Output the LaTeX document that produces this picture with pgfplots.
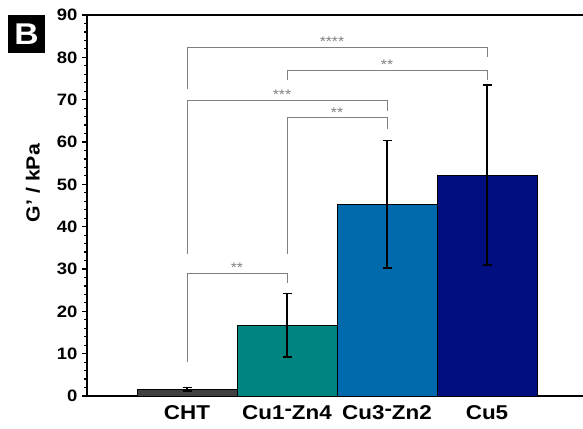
\documentclass[border=0pt]{standalone}
\usepackage{pgfplots}
\pgfplotsset{compat=1.18}
\usepackage{fontspec}
\setmainfont{Liberation Sans}[FakeStretch=1.12]
\definecolor{cht}{RGB}{64,64,64}
\definecolor{cuzn4}{RGB}{0,132,128}
\definecolor{cuzn2}{RGB}{0,106,173}
\definecolor{cufive}{RGB}{0,14,128}
\definecolor{brk}{RGB}{128,128,128}
\pgfplotsset{myerr/.style={error bars/.cd, y dir=both, y explicit,
  error bar style={line width=1.6pt, black, solid},
  error mark=|,
  error mark options={line width=1.6pt, black, mark size=4.5pt, solid}}}
\begin{document}
\begin{tikzpicture}
\begin{axis}[
  at={(87pt,32pt)}, anchor=south west,
  scale only axis, width=496pt, height=381pt,
  xmin=0, xmax=4.96, ymin=0, ymax=90,
  axis x line*=box, axis y line*=left,
  axis line style={line width=1.4pt},
  ytick={0,10,...,90}, minor y tick num=4,
  xtick={1,2,3,4},
  xticklabels={CHT, Cu1\raisebox{0.4ex}{-}Zn4, Cu3\raisebox{0.4ex}{-}Zn2, Cu5},
  x tick style={draw=none},
  y tick style={line width=1.2pt, black},
  tick align=outside,
  major tick length=5pt, minor tick length=3pt,
  /pgf/number format/assume math mode=true,
  yticklabel style={font=\bfseries\fontsize{16.5}{20}\selectfont, xshift=-1pt},
  xticklabel style={font=\bfseries\fontsize{20}{22}\selectfont, yshift=-1pt},
  ylabel={G' / kPa},
  ylabel style={font=\bfseries\fontsize{19}{20}\selectfont, at={(axis description cs:-0.109,0.559)}, anchor=center},
  ybar, bar width=1, bar shift=0pt,
  clip=false,
]
\addplot[fill=cht, draw=black, line width=1pt, myerr]
  coordinates {(1,1.6) +- (0,0.4)};
\addplot[fill=cuzn4, draw=black, line width=1pt, myerr]
  coordinates {(2,16.7) +- (0,7.5)};
\addplot[fill=cuzn2, draw=black, line width=1pt, myerr]
  coordinates {(3,45.3) +- (0,15.1)};
\addplot[fill=cufive, draw=black, line width=1pt, myerr]
  coordinates {(4,52.2) +- (0,21.2)};
% significance brackets
\draw[brk, line width=0.9pt] (axis cs:1,72.5) -- (axis cs:1,82.3) -- (axis cs:4,82.3) -- (axis cs:4,80.0);
\node[brk, anchor=south, inner sep=0.5pt, font=\fontsize{14}{14}\selectfont] at (axis cs:2.45,82.3) {****};
\draw[brk, line width=0.9pt] (axis cs:2,74.7) -- (axis cs:2,77.0) -- (axis cs:4,77.0) -- (axis cs:4,74.7);
\node[brk, anchor=south, inner sep=0.5pt, font=\fontsize{14}{14}\selectfont] at (axis cs:3,77.0) {**};
\draw[brk, line width=0.9pt] (axis cs:1,33.5) -- (axis cs:1,69.8) -- (axis cs:3,69.8) -- (axis cs:3,67.4);
\node[brk, anchor=south, inner sep=0.5pt, font=\fontsize{14}{14}\selectfont] at (axis cs:1.95,69.8) {***};
\draw[brk, line width=0.9pt] (axis cs:2,33.5) -- (axis cs:2,65.7) -- (axis cs:3,65.7) -- (axis cs:3,63.1);
\node[brk, anchor=south, inner sep=0.5pt, font=\fontsize{14}{14}\selectfont] at (axis cs:2.5,65.7) {**};
\draw[brk, line width=0.9pt] (axis cs:1,8.1) -- (axis cs:1,28.9) -- (axis cs:2,28.9) -- (axis cs:2,26.6);
\node[brk, anchor=south, inner sep=0.5pt, font=\fontsize{14}{14}\selectfont] at (axis cs:1.5,28.9) {**};
\end{axis}
\fill[black] (8pt,375pt) rectangle (45pt,413pt);
\node[white, font=\bfseries\fontsize{30}{30}\selectfont, inner sep=0pt] at (26.5pt,394pt) {B};
\pgfresetboundingbox
\path[use as bounding box] (0,0) rectangle (583pt,428pt);
\end{tikzpicture}
\end{document}
